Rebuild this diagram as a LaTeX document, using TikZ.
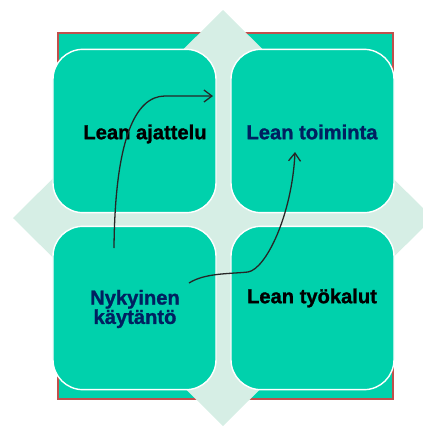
\documentclass[tikz,border=0pt]{standalone}
\usepackage{fontspec}
\setmainfont{Liberation Sans}[BoldFeatures = {FakeBold = 1.2}]
\usetikzlibrary{arrows.meta}

\definecolor{leanteal}{RGB}{0,209,172}
\definecolor{leanlight}{RGB}{214,238,229}
\definecolor{leanred}{RGB}{192,80,77}
\definecolor{leannavy}{RGB}{0,32,96}

\tikzset{
    quad/.style = {draw = white, line width = 1.2pt, fill = leanteal,
        rounded corners = 9mm, minimum width = 48.9mm, minimum height = 49mm, inner sep = 0pt},
    lbl/.style = {font = \bfseries\fontsize{17.2}{16.5}\selectfont, inner sep = 0pt},
    flow/.style = {line width = 1.1pt, draw = black!85, -{Straight Barb[length = 2.4mm, width = 3.6mm]}}
}

\begin{document}
\begin{tikzpicture}[x = 0.3mm, y = -0.3mm]
    \useasboundingbox (0,0) rectangle (423,427);
    \clip (0,0) rectangle (423,427);
    % frame, then the diamond over it
    \filldraw[fill = leanteal, draw = leanred, line width = 0.6mm] (58,33) rectangle (393,399);
    \fill[leanlight] (223,10) -- (433,218) -- (223,426) -- (13,218) -- cycle;
    % the four quadrants
    \foreach \name/\cx/\cy in {tl/134.5/131, tr/312.5/131, bl/134.5/308, br/312.5/308}{
        \node[quad] (\name) at (\cx,\cy) {};
    }
    \node[lbl] (ajattelu) at (145,134) {Lean ajattelu};
    \node[lbl, text = leannavy] (toiminta) at (312,132) {Lean toiminta};
    \node[lbl] (tyokalut) at (312,298) {Lean työkalut};
    \node[lbl, text = leannavy, align = center] (nykyinen) at (135,309) {Nykyinen\\käytäntö};
    % arrows
    \coordinate (upstart) at (114,248);
    \coordinate (upknee) at (165,96);
    \coordinate (upend) at (213,96);
    \draw[flow] (upstart) .. controls (115,140) and (135,96) .. (upknee) -- (upend);
    \coordinate (rstart) at (189,283);
    \coordinate (rknee) at (248,272);
    \coordinate (rend) at (295,152);
    \draw[flow] (rstart) .. controls (205,273) and (228,274) .. (rknee)
        .. controls (266,269) and (292,215) .. (rend);
\end{tikzpicture}
\end{document}
